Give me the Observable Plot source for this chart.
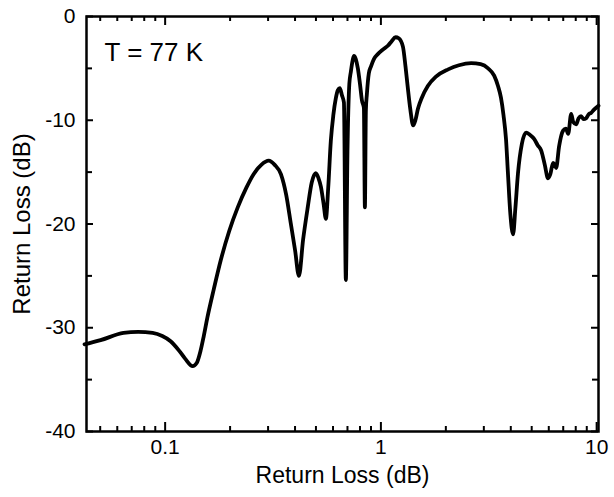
<!DOCTYPE html>
<html>
<head>
<meta charset="utf-8">
<script src="https://cdn.jsdelivr.net/npm/d3@7"></script>
<script src="https://cdn.jsdelivr.net/npm/@observablehq/plot@0.6"></script>
<style>
  body { margin: 0; background: #fff; }
  svg { display: block; }
</style>
</head>
<body>
<div id="chart"></div>
<script>
const freq = [0.0423,0.0502,0.0641,0.075,0.0875,0.097,0.106,0.116,0.124,0.134,0.140,0.146,0.151,0.157,0.168,0.181,0.198,0.217,0.238,0.257,0.279,0.302,0.322,0.344,0.364,0.382,0.400,0.417,0.436,0.458,0.478,0.499,0.514,0.527,0.542,0.556,0.570,0.586,0.602,0.618,0.632,0.645,0.660,0.674,0.688,0.700,0.714,0.726,0.740,0.750,0.765,0.782,0.800,0.817,0.834,0.843,0.852,0.861,0.879,0.900,0.928,0.97,1.02,1.08,1.12,1.17,1.21,1.265,1.30,1.33,1.37,1.41,1.445,1.485,1.55,1.65,1.80,2.05,2.30,2.62,2.90,3.14,3.35,3.49,3.60,3.70,3.80,3.88,3.98,4.10,4.20,4.32,4.50,4.71,4.90,5.13,5.33,5.53,5.75,5.95,6.10,6.28,6.40,6.49,6.70,6.99,7.20,7.38,7.62,7.80,8.03,8.25,8.47,8.70,8.94,9.20,9.42,9.70,10.2];
const loss = [-31.6,-31.2,-30.5,-30.4,-30.5,-30.8,-31.3,-32.2,-33.0,-33.7,-33.4,-32.2,-30.8,-29.0,-26.3,-23.5,-20.7,-18.4,-16.5,-15.2,-14.3,-13.9,-14.3,-15.2,-17.2,-19.9,-22.5,-25.0,-21.5,-18.4,-16.0,-15.1,-15.6,-16.4,-18.0,-19.5,-16.5,-12.0,-9.5,-7.9,-7.1,-6.9,-7.6,-8.3,-25.4,-13,-6.5,-5.3,-4.2,-3.8,-4.1,-5.0,-6.5,-8.1,-8.8,-18.4,-9,-7.5,-5.5,-4.8,-4.1,-3.6,-3.2,-2.8,-2.4,-2.0,-2.1,-2.9,-4.8,-6.7,-9.0,-10.5,-10.0,-8.9,-7.8,-6.7,-5.8,-5.1,-4.7,-4.5,-4.6,-5.0,-5.7,-6.7,-7.8,-9.5,-11.8,-15.1,-19.0,-21.0,-18.5,-15.1,-12.3,-11.2,-11.4,-11.8,-12.4,-12.9,-14.3,-15.6,-15.2,-14.1,-14.3,-14.6,-12.5,-11.0,-10.8,-11.3,-9.4,-10.2,-10.4,-9.8,-9.6,-9.9,-9.8,-9.4,-9.3,-9.0,-8.6];
const xMajorTicks = [0.1, 1, 10];
const xMinorTicks = [0.05,0.06,0.07,0.08,0.09,0.2,0.3,0.4,0.5,0.6,0.7,0.8,0.9,2,3,4,5,6,7,8,9];
const yMajorTicks = [-40,-30,-20,-10,0];
const yMinorTicks = [-35,-25,-15,-5];
const annotation = ["T = 77 K"];
const xLabel = "Return Loss (dB)";
const yLabel = "Return Loss (dB)";

const data = freq.map((f, i) => ({f, v: loss[i]}));

const W = 614, H = 497;
const mL = 86, mR = 16, mT = 16, mB = 66;
const innerH = H - mT - mB;
const innerW = W - mL - mR;

const chart = Plot.plot({
  width: W,
  height: H,
  marginLeft: mL,
  marginRight: mR,
  marginTop: mT,
  marginBottom: mB,
  style: {fontFamily: "'Liberation Sans', Arial, sans-serif", fontSize: "21px", color: "#000", background: "#fff"},
  x: {type: "log", domain: [0.0432, 10.2]},
  y: {domain: [-40, 0]},
  marks: [
    Plot.tickX(xMajorTicks, {x: d => d, insetTop: innerH - 9, stroke: "#000", strokeWidth: 2}),
    Plot.tickX(xMajorTicks, {x: d => d, insetBottom: innerH - 9, stroke: "#000", strokeWidth: 2}),
    Plot.tickX(xMinorTicks, {x: d => d, insetTop: innerH - 5, stroke: "#000", strokeWidth: 2}),
    Plot.tickX(xMinorTicks, {x: d => d, insetBottom: innerH - 5, stroke: "#000", strokeWidth: 2}),
    Plot.tickY(yMajorTicks, {y: d => d, insetRight: innerW - 7, stroke: "#000", strokeWidth: 2}),
    Plot.tickY(yMajorTicks, {y: d => d, insetLeft: innerW - 7, stroke: "#000", strokeWidth: 2}),
    Plot.tickY(yMinorTicks, {y: d => d, insetRight: innerW - 6, stroke: "#000", strokeWidth: 2}),
    Plot.tickY(yMinorTicks, {y: d => d, insetLeft: innerW - 6, stroke: "#000", strokeWidth: 2}),
    Plot.axisX(xMajorTicks, {tickSize: 0, tickPadding: 8, tickFormat: d => String(d), fontSize: 21, label: null}),
    Plot.axisY(yMajorTicks, {tickSize: 0, tickPadding: 11, tickFormat: d => String(d), fontSize: 21, label: null}),
    Plot.text([xLabel], {frameAnchor: "bottom", dy: 44, text: d => d, fontSize: 23, textAnchor: "middle", lineAnchor: "middle"}),
    Plot.text([yLabel], {frameAnchor: "left", dx: -64, rotate: -90, text: d => d, fontSize: 24, textAnchor: "middle", lineAnchor: "middle"}),
    Plot.line(data, {x: "f", y: "v", stroke: "#000", strokeWidth: 3.8, curve: "monotone-x", strokeLinejoin: "round"}),
    Plot.text(annotation, {frameAnchor: "top-left", dx: 18, dy: 36, text: d => d, fontSize: 26, textAnchor: "start", lineAnchor: "middle"}),
    Plot.frame({stroke: "#000", strokeWidth: 2.5})
  ]
});
document.getElementById("chart").appendChild(chart);
</script>
</body>
</html>
